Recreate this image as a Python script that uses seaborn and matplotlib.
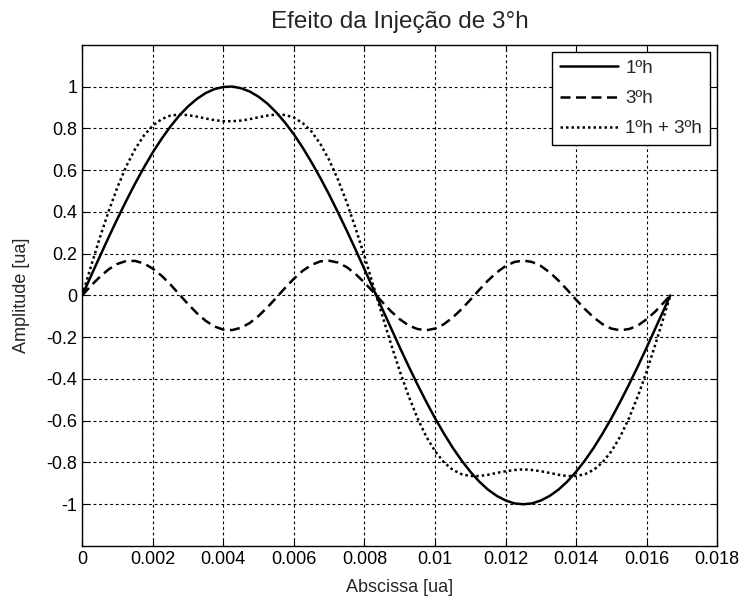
import matplotlib
matplotlib.use("Agg")
import matplotlib.pyplot as plt
import seaborn as sns
import pandas as pd

# tempo [ua] (amostragem)
tempo = [0.0, 0.00025, 0.0005, 0.00075, 0.001, 0.00125, 0.0015, 0.00175, 0.002, 0.00225,
         0.0025, 0.00275, 0.003, 0.00325, 0.0035, 0.00375, 0.004, 0.00425, 0.0045, 0.00475,
         0.005, 0.00525, 0.0055, 0.00575, 0.006, 0.00625, 0.0065, 0.00675, 0.007, 0.00725,
         0.0075, 0.00775, 0.008, 0.00825, 0.0085, 0.00875, 0.009, 0.00925, 0.0095, 0.00975,
         0.01, 0.01025, 0.0105, 0.01075, 0.011, 0.01125, 0.0115, 0.01175, 0.012, 0.01225,
         0.0125, 0.01275, 0.013, 0.01325, 0.0135, 0.01375, 0.014, 0.01425, 0.0145, 0.01475,
         0.015, 0.01525, 0.0155, 0.01575, 0.016, 0.01625, 0.0165, 0.016667]

h1 = [0.0, 0.094, 0.187, 0.279, 0.368, 0.454, 0.536, 0.613, 0.685, 0.750,
      0.809, 0.861, 0.905, 0.941, 0.969, 0.988, 0.998, 1.0, 0.992, 0.976,
      0.951, 0.918, 0.876, 0.827, 0.771, 0.707, 0.637, 0.562, 0.482, 0.397,
      0.309, 0.218, 0.125, 0.031, -0.063, -0.156, -0.249, -0.339, -0.426, -0.509,
      -0.588, -0.661, -0.729, -0.790, -0.844, -0.891, -0.930, -0.960, -0.982, -0.996,
      -1.0, -0.996, -0.982, -0.960, -0.930, -0.891, -0.844, -0.790, -0.729, -0.661,
      -0.588, -0.509, -0.426, -0.339, -0.249, -0.156, -0.063, 0.0]

h3 = [0.0, 0.047, 0.089, 0.125, 0.151, 0.165, 0.165, 0.153, 0.128, 0.094,
      0.052, 0.005, -0.042, -0.085, -0.122, -0.149, -0.164, -0.166, -0.155, -0.132,
      -0.098, -0.057, -0.011, 0.036, 0.080, 0.118, 0.146, 0.163, 0.166, 0.157,
      0.135, 0.102, 0.061, 0.016, -0.031, -0.076, -0.114, -0.144, -0.161, -0.167,
      -0.159, -0.138, -0.106, -0.066, -0.021, 0.026, 0.071, 0.110, 0.141, 0.160,
      0.167, 0.160, 0.141, 0.110, 0.071, 0.026, -0.021, -0.066, -0.106, -0.138,
      -0.159, -0.167, -0.161, -0.144, -0.114, -0.076, -0.031, 0.0]

soma = [0.0, 0.141, 0.277, 0.404, 0.519, 0.619, 0.701, 0.766, 0.813, 0.844,
        0.861, 0.866, 0.863, 0.856, 0.847, 0.839, 0.834, 0.834, 0.837, 0.844,
        0.853, 0.861, 0.866, 0.864, 0.851, 0.825, 0.784, 0.725, 0.648, 0.554,
        0.444, 0.320, 0.187, 0.047, -0.094, -0.232, -0.363, -0.482, -0.587, -0.676,
        -0.746, -0.799, -0.835, -0.856, -0.865, -0.865, -0.859, -0.850, -0.842, -0.836,
        -0.833, -0.836, -0.842, -0.850, -0.859, -0.865, -0.865, -0.856, -0.835, -0.799,
        -0.746, -0.676, -0.587, -0.482, -0.363, -0.232, -0.094, 0.0]

rotulos = ["1ºh", "3ºh", "1ºh + 3ºh"]
estilos = ["-", (0, (4, 2.2)), (0, (1, 1.2))]

sns.set_style("white")
plt.rcParams['font.family'] = ['Liberation Sans', 'DejaVu Sans']

fig = plt.figure(figsize=(7.41, 6.01), dpi=100)
ax = fig.add_axes([0.111, 0.0915, 0.857, 0.834])

for serie, rot, ls in zip([h1, h3, soma], rotulos, estilos):
    df = pd.DataFrame({"t": tempo, "y": serie})
    sns.lineplot(data=df, x="t", y="y", ax=ax, color="black", linewidth=1.8,
                 linestyle=ls, label=rot, sort=False, estimator=None)

ax.set_xlim(0, 0.018)
ax.set_ylim(-1.2, 1.2)
ax.set_xticks([0, 0.002, 0.004, 0.006, 0.008, 0.01, 0.012, 0.014, 0.016, 0.018])
ax.set_xticklabels(["0", "0.002", "0.004", "0.006", "0.008", "0.01", "0.012", "0.014", "0.016", "0.018"])
ax.set_yticks([-1, -0.8, -0.6, -0.4, -0.2, 0, 0.2, 0.4, 0.6, 0.8, 1])
ax.set_yticklabels(["-1", "-0.8", "-0.6", "-0.4", "-0.2", "0", "0.2", "0.4", "0.6", "0.8", "1"])

ax.grid(True, color="black", linestyle=(0, (2.5, 2.5)), linewidth=0.8)
ax.tick_params(direction="in", length=4.5, width=0.8, labelsize=13, colors="black",
               top=True, right=True, bottom=True, left=True)
for sp in ax.spines.values():
    sp.set_color("black")
    sp.set_linewidth(1.0)

ax.set_title("Efeito da Injeção de 3°h", fontsize=17.5, pad=12)
ax.set_xlabel("Abscissa [ua]", fontsize=13, labelpad=8)
ax.set_ylabel("Amplitude [ua]", fontsize=13, labelpad=12)

leg = ax.legend(loc="upper right", fontsize=13.5, handlelength=3.1, handletextpad=0.4,
                fancybox=False, framealpha=1, edgecolor="black", borderaxespad=0.4,
                labelspacing=0.7)
leg.get_frame().set_linewidth(1.0)

fig.savefig("out.png", dpi=100)
